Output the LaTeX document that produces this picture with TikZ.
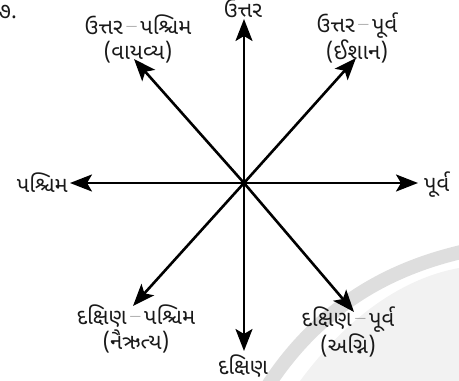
\documentclass[tikz,border=0pt]{standalone}
\usepackage{fontspec}
\newfontfamily\guj[Script=Gujarati]{Noto Sans Gujarati UI}
\newcommand\gdash{{\rmfamily\,\raisebox{2.5pt}{–}\,}}
\usetikzlibrary{arrows.meta}
\begin{document}
\begin{tikzpicture}[x=1pt,y=-1pt,
  dirarrow/.style={line width=2.6pt,-{Stealth[length=22pt,width=17pt,inset=5pt]}},
  lbl/.style={font=\guj\fontsize{22}{25}\selectfont,inner sep=0pt,align=center,text=black!90}]
\useasboundingbox (0,0) rectangle (459,381);
% watermark
\fill[black!5] (300,381) .. controls (360,300) and (420,275) .. (459,268) -- (459,381) -- cycle;
\draw[black!13,line width=14pt] (262,395) .. controls (320,300) and (400,265) .. (470,250);
\coordinate (c) at (244,183);
\coordinate (n) at (244,19);
\coordinate (s) at (244,351);
\coordinate (w) at (70,183);
\coordinate (e) at (418,183);
\coordinate (nw) at (134,59);
\coordinate (ne) at (356,58);
\coordinate (sw) at (133,306);
\coordinate (se) at (354,312);
\foreach \t in {n,s,w,e,nw,ne,sw,se} \draw[dirarrow] (c) -- (\t);
\node[lbl,anchor=east] (num) at (17,12) {૭.};
\node[lbl] (ln) at (243,8) {ઉત્તર};
\node[lbl] (ls) at (243,366) {દક્ષિણ};
\node[lbl,anchor=east] (lw) at (68,183) {પશ્ચિમ};
\node[lbl,anchor=west] (le) at (424,185) {પૂર્વ};
\node[lbl] (lnw) at (138,39) {ઉત્તર\gdash પશ્ચિમ\\(વાયવ્ય)};
\node[lbl] (lne) at (357,38) {ઉત્તર\gdash પૂર્વ\\(ઈશાન)};
\node[lbl] (lsw) at (136,329) {દક્ષિણ\gdash પશ્ચિમ\\(નૈઋત્ય)};
\node[lbl] (lse) at (348,332) {દક્ષિણ\gdash પૂર્વ\\(અગ્નિ)};
\end{tikzpicture}
\end{document}
